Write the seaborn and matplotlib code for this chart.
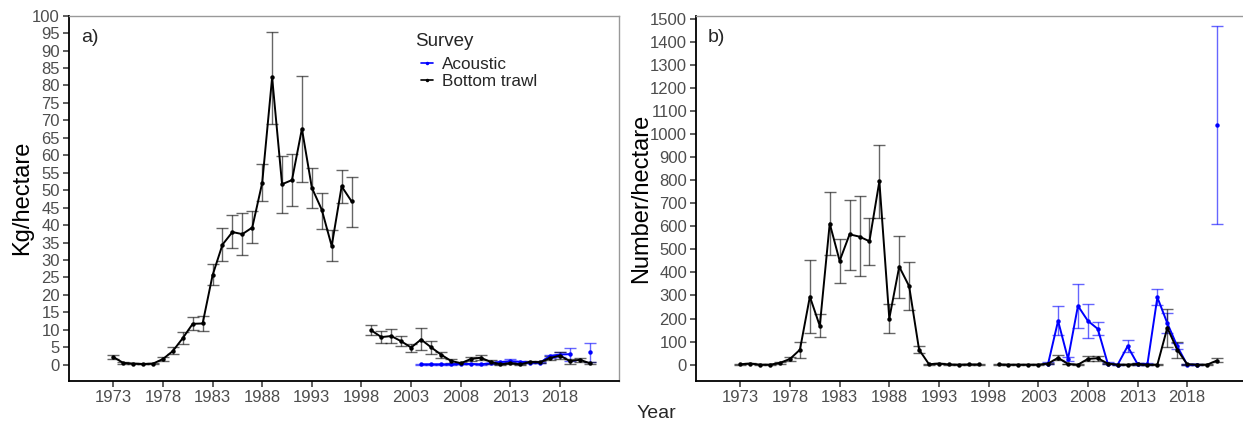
import numpy as np
import pandas as pd
import seaborn as sns
import matplotlib.pyplot as plt

# ---- data ----
bt_years = list(range(1973, 2022))
bt_kg = [2.2, 0.5, 0.3, 0.2, 0.3, 1.6, 3.9, 7.6, 11.7, 11.8,
         25.6, 34.4, 38.0, 37.4, 39.3, 52.1, 82.3, 51.7, 52.9, 67.6,
         50.7, 44.4, 34.0, 51.1, 46.8, None, 9.8, 7.9, 8.2, 6.7,
         4.9, 7.2, 5.0, 2.9, 1.1, 0.4, 1.6, 2.0, 0.8, 0.1,
         0.4, 0.1, 0.8, 0.7, 1.9, 2.6, 1.0, 1.4, 0.4]
bt_kg_lo = [1.5, 0.3, 0.2, 0.1, 0.1, 1.0, 3.0, 5.8, 9.8, 9.7,
            22.9, 29.7, 33.5, 31.5, 34.8, 46.8, 69.0, 43.5, 45.4, 52.3,
            44.8, 39.0, 29.6, 46.2, 39.4, None, 8.5, 6.3, 6.3, 5.3,
            3.5, 4.1, 3.0, 1.8, 0.5, 0.2, 1.1, 1.3, 0.3, 0.0,
            0.1, 0.0, 0.5, 0.4, 1.2, 1.6, 0.3, 0.7, 0.1]
bt_kg_hi = [2.9, 0.7, 0.4, 0.3, 0.5, 2.2, 5.1, 9.3, 13.7, 14.0,
            28.7, 39.1, 42.8, 43.4, 43.9, 57.4, 95.4, 59.9, 60.3, 82.8,
            56.3, 49.3, 38.5, 55.9, 53.8, None, 11.3, 9.5, 10.2, 8.2,
            6.0, 10.4, 6.9, 3.7, 1.5, 0.7, 2.2, 2.7, 1.3, 0.3,
            0.7, 0.2, 1.1, 1.0, 2.6, 3.7, 1.6, 2.0, 0.7]

bt_num = [2, 5, 0, 0, 8, 25, 65, 295, 168, 612,
          450, 565, 555, 535, 795, 200, 425, 340, 65, 2,
          5, 1, 0, 1, 1, None, 1, 0, 0, 0,
          0, 5, 30, 3, 0, 25, 28, 5, 0, 0,
          3, 0, 0, 160, 65, 2, 0, 0, 18]
bt_num_lo = [0, 2, 0, 0, 5, 18, 30, 138, 122, 475,
             355, 410, 385, 432, 635, 137, 288, 235, 50, 0,
             2, 0, 0, 0, 0, None, 0, 0, 0, 0,
             0, 2, 20, 1, 0, 15, 18, 2, 0, 0,
             0, 0, 0, 78, 30, 0, 0, 0, 10]
bt_num_hi = [4, 8, 1, 1, 12, 32, 100, 455, 218, 748,
             545, 715, 730, 638, 953, 265, 560, 447, 82, 4,
             8, 2, 1, 2, 2, None, 2, 1, 1, 1,
             1, 8, 40, 5, 1, 37, 38, 8, 1, 1,
             6, 1, 1, 243, 100, 4, 1, 1, 28]

ac_years = list(range(2004, 2022))
ac_kg = [0.1, 0.1, 0.1, 0.1, 0.2, 0.2, 0.1, 0.4, 0.7, 1.0,
         0.8, 0.6, 0.6, 2.5, 2.9, 3.0, None, 3.6]
ac_kg_lo = [0.0, 0.0, 0.0, 0.0, 0.1, 0.1, 0.0, 0.2, 0.4, 0.4,
            0.5, 0.4, 0.4, 2.0, 2.2, 1.1, None, 0.7]
ac_kg_hi = [0.2, 0.2, 0.2, 0.2, 0.3, 0.3, 0.2, 0.6, 1.0, 1.5,
            1.1, 0.8, 0.8, 2.9, 3.5, 4.9, None, 6.3]

ac_num = [5, 190, 25, 255, 190, 155, 5, 0, 80, 3,
          3, 292, 180, 80, 0, 0, None, 1038]
ac_num_lo = [2, 130, 15, 160, 115, 128, 2, 0, 55, 0,
             0, 258, 138, 70, 0, 0, None, 610]
ac_num_hi = [10, 253, 35, 350, 262, 183, 10, 2, 107, 6,
             8, 328, 225, 92, 2, 2, None, 1470]

x_ticks = list(range(1973, 2019, 5))
colors = {"Acoustic": "#0000FF", "Bottom trawl": "black"}


def make_frame(survey, years, val, lo, hi):
    df = pd.DataFrame({"Year": years, "val": val, "lo": lo, "hi": hi}, dtype=float)
    df["Survey"] = survey
    # new segment after every missing year so the line breaks there
    df["seg"] = df["val"].isna().cumsum()
    return df.dropna()


sns.set_theme(style="ticks")
plt.rcParams["font.family"] = ["Liberation Sans", "DejaVu Sans"]

fig = plt.figure(figsize=(12.43, 4.23), dpi=100)
ax_a = fig.add_axes([0.0555, 0.1, 0.4422, 0.8629])
ax_b = fig.add_axes([0.56, 0.1, 0.4422, 0.8629])

panels = [
    (ax_a, "a)", "Kg/hectare",
     [make_frame("Acoustic", ac_years, ac_kg, ac_kg_lo, ac_kg_hi),
      make_frame("Bottom trawl", bt_years, bt_kg, bt_kg_lo, bt_kg_hi)],
     (-4.6, 100.0), np.arange(0, 101, 5), -0.066),
    (ax_b, "b)", "Number/hectare",
     [make_frame("Acoustic", ac_years, ac_num, ac_num_lo, ac_num_hi),
      make_frame("Bottom trawl", bt_years, bt_num, bt_num_lo, bt_num_hi)],
     (-69.4, 1512.8), np.arange(0, 1501, 100), -0.08),
]

for ax, tag, ylab, frames, ylim, yticks, ylab_x in panels:
    data = pd.concat(frames, ignore_index=True)
    for survey, sub in data.groupby("Survey"):
        ax.errorbar(sub["Year"], sub["val"],
                    yerr=[sub["val"] - sub["lo"], sub["hi"] - sub["val"]],
                    fmt="none", ecolor=colors[survey], alpha=0.6,
                    elinewidth=1.0, capsize=4, capthick=1.0, zorder=1)
    sns.lineplot(data=data, x="Year", y="val", hue="Survey", units="seg",
                 estimator=None, palette=colors, marker="o", markersize=3.2,
                 markeredgewidth=0, linewidth=1.4, ax=ax, legend=(tag == "a)"),
                 zorder=2)
    ax.set_xlim(1968.54, 2023.9)
    ax.set_ylim(*ylim)
    ax.set_xticks(x_ticks)
    ax.set_yticks(yticks)
    ax.tick_params(axis="both", labelsize=12, labelcolor="#4D4D4D",
                   color="#333333", length=4.5, width=1.1, pad=2)
    ax.set_xlabel("")
    ax.set_ylabel(ylab, fontsize=17, color="black")
    ax.yaxis.set_label_coords(ylab_x, 0.5)
    for side in ["left", "bottom"]:
        ax.spines[side].set_color("black")
        ax.spines[side].set_linewidth(1.3)
    for side in ["top", "right"]:
        ax.spines[side].set_visible(True)
        ax.spines[side].set_color("#999999")
        ax.spines[side].set_linewidth(1.0)
    ax.text(0.022, 0.94, tag, transform=ax.transAxes, fontsize=14,
            ha="left", va="center")

# legend title drawn as its own text to get the wider gap of the reference
ax_a.text(0.629, 0.929, "Survey", transform=ax_a.transAxes, fontsize=13.5,
          ha="left", va="center")
leg = ax_a.legend(loc="upper left", bbox_to_anchor=(0.641, 0.887),
                  frameon=False, fontsize=12.3,
                  handlelength=0.7, handletextpad=0.5, labelspacing=0.1,
                  borderaxespad=0, borderpad=0)
for line in leg.get_lines():
    line.set_linewidth(1.2)
    line.set_markersize(2.5)

fig.text(0.528, 0.022, "Year", fontsize=14, ha="center", va="center")

fig.savefig("out.png", dpi=100)
